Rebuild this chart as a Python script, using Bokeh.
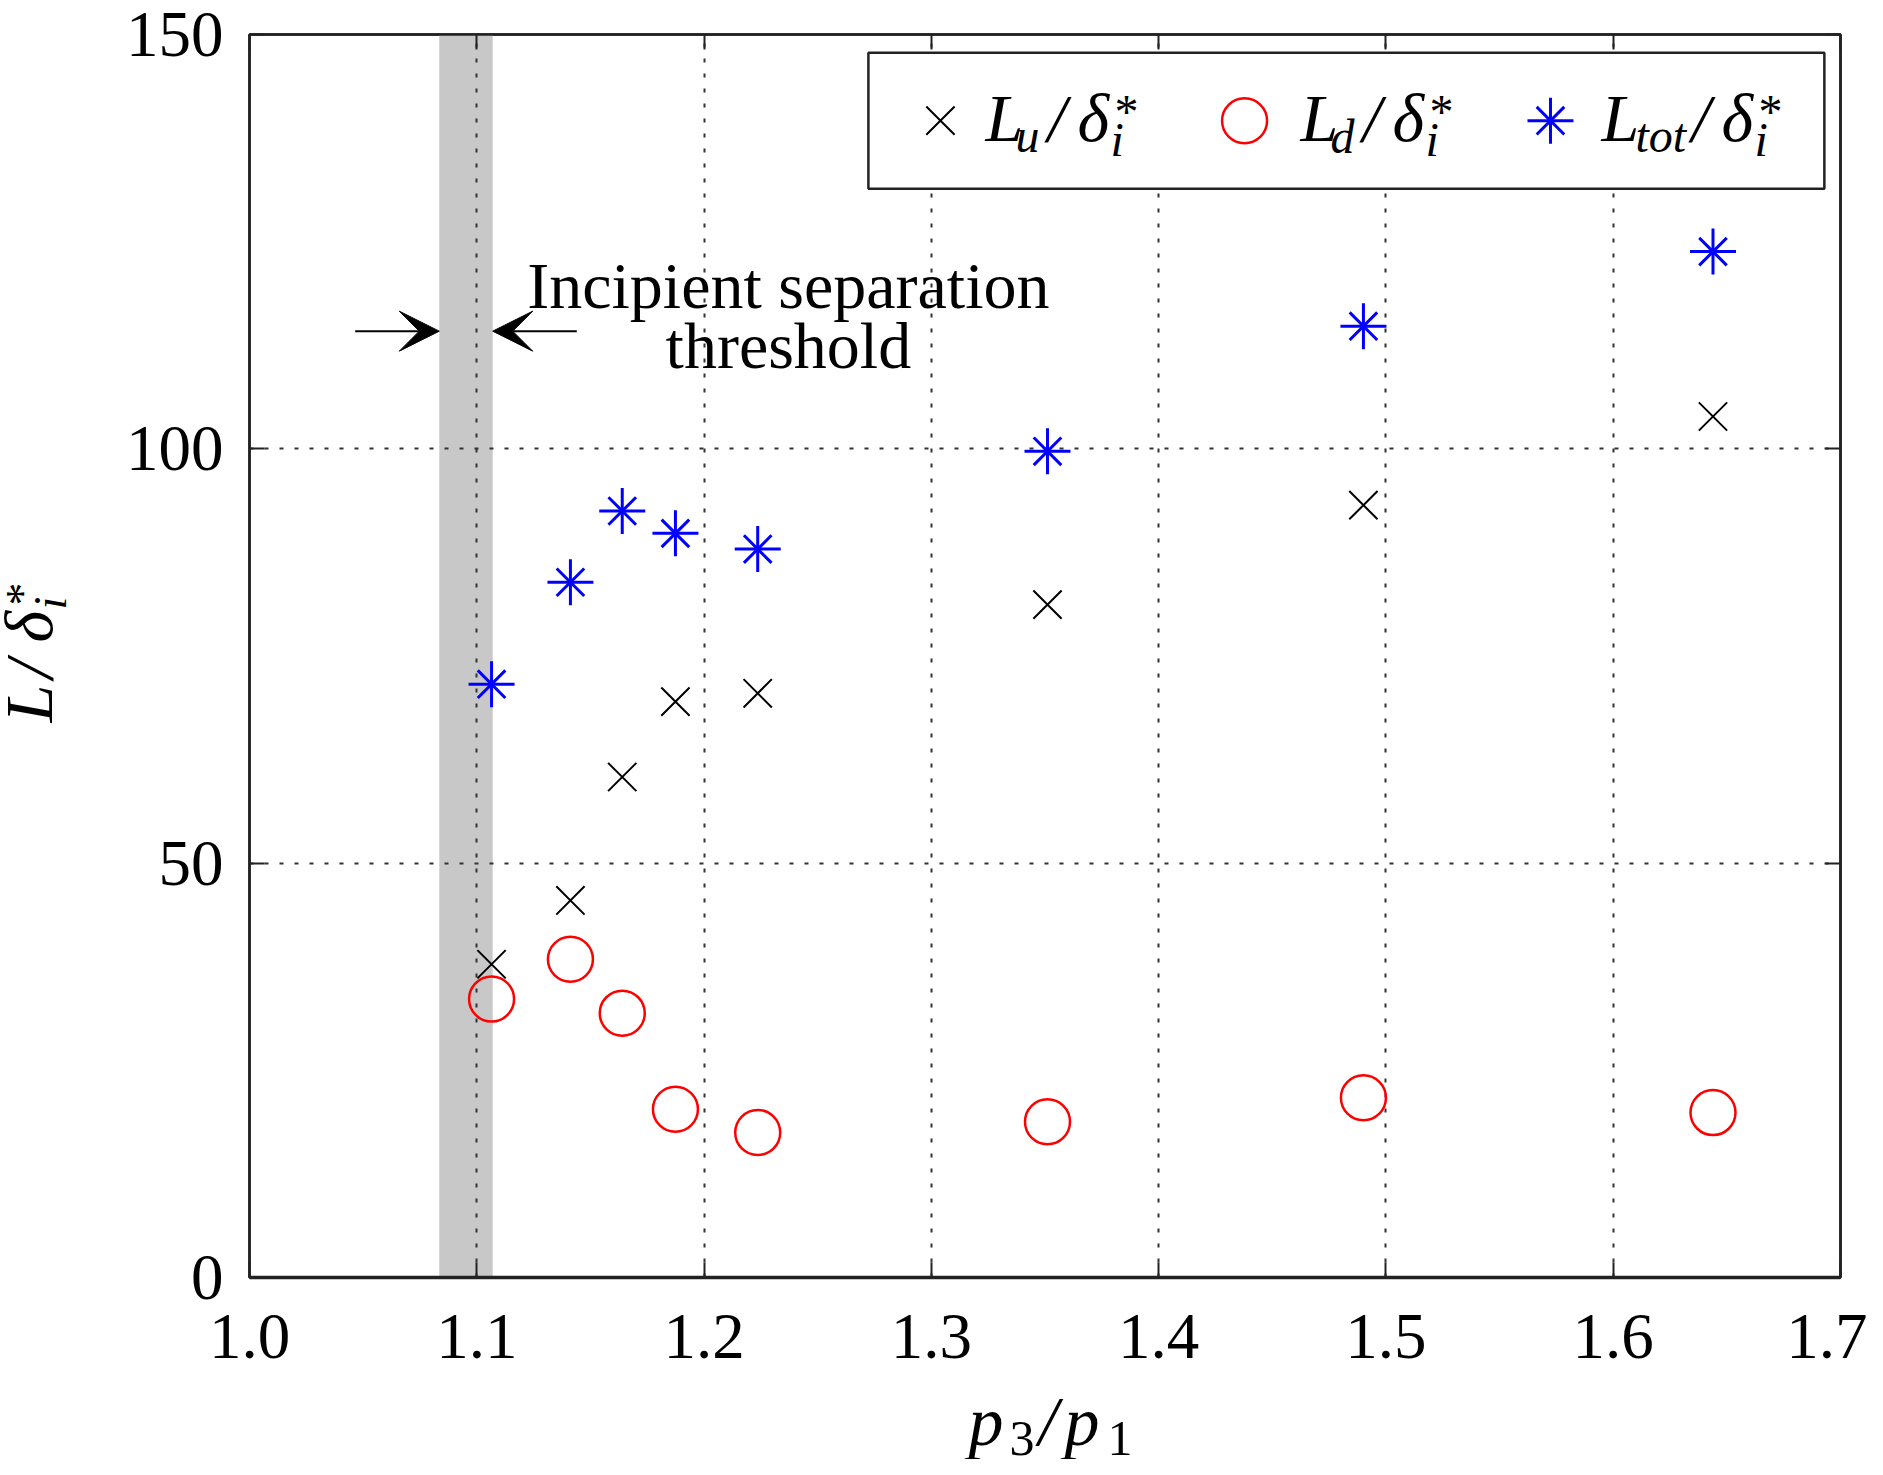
import math
from bokeh.plotting import figure
from bokeh.layouts import row, column
from bokeh.models import Range1d, FixedTicker, LinearAxis, Label, Arrow, VeeHead
from bokeh.embed import file_html
from bokeh.resources import INLINE

# ---------------- data ----------------
p_ratio = [1.1065, 1.1412, 1.1640, 1.1874, 1.2236, 1.3511, 1.4901, 1.6439]
L_u = [37.8, 45.5, 60.4, 69.5, 70.5, 81.2, 93.2, 103.9]
L_d = [33.6, 38.4, 31.9, 20.3, 17.5, 18.8, 21.7, 19.9]
L_tot = [71.6, 83.9, 92.5, 89.8, 87.9, 99.7, 114.8, 123.8]

x_ticks = [1.0, 1.1, 1.2, 1.3, 1.4, 1.5, 1.6, 1.7]
x_tick_labels = ["1.0", "1.1", "1.2", "1.3", "1.4", "1.5", "1.6", "1.7"]
y_ticks = [0, 50, 100, 150]
y_tick_labels = ["0", "50", "100", "150"]
x_grid = [1.1, 1.2, 1.3, 1.4, 1.5, 1.6]
y_grid = [50, 100]
threshold_range = [1.0835, 1.107]
annotation_lines = ["Incipient separation", "threshold"]

FONT = "Liberation Serif"
FRAME = "#222222"
BASE_FIX = 0.35  # baseline compensation (fraction of font size)

YW = 80          # width of the y-title strip
PW, PH = 1787, 1395
XH = 64          # height of the x-title strip

p = figure(width=PW, height=PH,
           x_range=Range1d(1.0, 1.7), y_range=Range1d(0, 150),
           output_backend="svg", toolbar_location=None,
           min_border_left=169, min_border_right=27,
           min_border_top=34, min_border_bottom=118)

p.background_fill_color = "white"
p.border_fill_color = "white"
p.outline_line_color = FRAME
p.outline_line_width = 2.5

for ax in (p.xaxis[0], p.yaxis[0]):
    ax.major_tick_in = 15
    ax.major_tick_out = 0
    ax.minor_tick_line_color = None
    ax.axis_line_color = FRAME
    ax.axis_line_width = 2.5
    ax.major_tick_line_color = FRAME
    ax.major_tick_line_width = 2
    ax.major_label_text_font = FONT
    ax.major_label_text_font_size = "65px"
    ax.major_label_text_color = "black"

p.xaxis[0].ticker = FixedTicker(ticks=x_ticks)
p.xaxis[0].major_label_overrides = {t: l for t, l in zip(x_ticks, x_tick_labels)}
p.xaxis[0].major_label_standoff = 37
p.xaxis[0].axis_line_width = 3.5
p.yaxis[0].ticker = FixedTicker(ticks=y_ticks)
p.yaxis[0].major_label_overrides = {t: l for t, l in zip(y_ticks, y_tick_labels)}
p.yaxis[0].major_label_standoff = 26


def mirror_axis(ticks):
    return LinearAxis(ticker=FixedTicker(ticks=ticks), major_tick_in=15, major_tick_out=0,
                      minor_tick_line_color=None, axis_line_color=FRAME, axis_line_width=2.5,
                      major_tick_line_color=FRAME, major_tick_line_width=2,
                      major_label_text_font_size="1px", major_label_text_alpha=0,
                      major_label_standoff=0)


p.add_layout(mirror_axis(x_ticks), "above")
p.add_layout(mirror_axis(y_ticks), "right")

p.xgrid.ticker = FixedTicker(ticks=x_grid)
p.ygrid.ticker = FixedTicker(ticks=y_grid)
for g in (p.xgrid, p.ygrid):
    g.grid_line_color = "#333333"
    g.grid_line_width = 2
    g.grid_line_dash = "4 11"

# threshold band
p.quad(left=threshold_range[0], right=threshold_range[1], bottom=0, top=150,
       fill_color="#c8c8c8", line_color=None, level="image")

# data markers
p.scatter(p_ratio, L_u, marker="x", size=40, line_color="black", line_width=2)
p.scatter(p_ratio, L_d, marker="circle", size=45, fill_color=None,
          line_color="#ff0000", line_width=2.5)
p.scatter(p_ratio, L_tot, marker="cross", size=46, line_color="#0000ff", line_width=3)
p.scatter(p_ratio, L_tot, marker="x", size=39, line_color="#0000ff", line_width=3)


def rich(fig, x, y, pieces, angle=0.0):
    """pieces: (text, along_px, perp_px, size, style)"""
    for txt, d, s, size, style in pieces:
        s = s + BASE_FIX * size
        if angle == 0.0:
            xo, yo = d, s
        else:
            xo, yo = -s, d
        fig.add_layout(Label(x=x, y=y, text=txt, x_offset=xo, y_offset=yo, angle=angle,
                             text_font=FONT, text_font_size=f"{size}px",
                             text_font_style=style, text_baseline="alphabetic",
                             text_align="left", text_color="black"))


# legend (drawn by hand to keep sub/superscripts)
leg_l, leg_r, leg_b, leg_t = 1.2723, 1.6929, 131.4, 147.8
p.quad(left=leg_l, right=leg_r, bottom=leg_b, top=leg_t, fill_color="white",
       line_color=FRAME, line_width=2.5)
leg_y = (leg_b + leg_t) / 2
p.scatter([leg_l + 0.0317], [leg_y], marker="x", size=40, line_color="black", line_width=2)
p.scatter([leg_l + 0.1655], [leg_y], marker="circle", size=45, fill_color=None,
          line_color="#ff0000", line_width=2.5)
p.scatter([leg_l + 0.3001], [leg_y], marker="cross", size=46, line_color="#0000ff", line_width=3)
p.scatter([leg_l + 0.3001], [leg_y], marker="x", size=39, line_color="#0000ff", line_width=3)

tb = leg_y - 2.6
rich(p, leg_l + 0.0515, tb, [("L", 0, 0, 68, "italic"), ("u", 30, -10, 48, "italic"),
                             ("/", 62, 0, 68, "italic"), ("δ", 92, 0, 68, "italic"),
                             ("i", 125, -14, 48, "italic"), ("*", 129, 14, 48, "normal")])
rich(p, leg_l + 0.1901, tb, [("L", 0, 0, 68, "italic"), ("d", 30, -11, 48, "italic"),
                             ("/", 62, 0, 68, "italic"), ("δ", 92, 0, 68, "italic"),
                             ("i", 125, -14, 48, "italic"), ("*", 129, 14, 48, "normal")])
rich(p, leg_l + 0.3225, tb, [("L", 0, 0, 68, "italic"), ("tot", 34, -10, 48, "italic"),
                             ("/", 90, 0, 68, "italic"), ("δ", 120, 0, 68, "italic"),
                             ("i", 153, -14, 48, "italic"), ("*", 157, 14, 48, "normal")])

# annotation text and arrows
for line, yy in zip(annotation_lines, [116.9, 109.7]):
    p.add_layout(Label(x=1.2371, y=yy, y_offset=BASE_FIX * 66, text=line, text_font=FONT,
                       text_font_size="66px", text_align="center", text_baseline="alphabetic",
                       text_color="black"))
arrow_y = 114.2
for edge, sign in ((threshold_range[0], -1), (threshold_range[1], 1)):
    p.add_layout(Arrow(x_start=edge + sign * 0.037, y_start=arrow_y,
                       x_end=edge, y_end=arrow_y, line_width=2, line_color="black",
                       end=VeeHead(size=40, fill_color="black", line_color="black",
                                   line_width=1)))


# ---- axis titles in their own strips (so they are not clipped by the frame) ----
def strip(w, h, xr):
    f = figure(width=w, height=h, x_range=xr, y_range=Range1d(0, h),
               output_backend="svg", toolbar_location=None,
               x_axis_location=None, y_axis_location=None, min_border=0)
    f.outline_line_color = None
    f.border_fill_color = "white"
    f.background_fill_color = "white"
    f.xgrid.visible = False
    f.ygrid.visible = False
    return f


yfig = strip(YW, PH + XH, Range1d(0, YW))
# the x strip's frame is aligned with the main frame, so it shares the x scale
xfig = strip(PW, XH, Range1d(1.0, 1.7))

# x title: p3/p1
rich(xfig, 1.3163, 14, [("p", 0, 0, 70, "italic"), ("3", 41, -10, 50, "normal"),
                        ("/", 70, 0, 70, "italic"), ("p", 96, 0, 70, "italic"),
                        ("1", 139, -10, 50, "normal")])
# y title: L/delta_i^*, rotated
rich(yfig, 52, (PH + XH) - 722, [("L", 0, 0, 68, "italic"), ("/", 44, 0, 68, "italic"),
                                 ("δ", 80, 0, 68, "italic"), ("i", 113, -14, 46, "italic"),
                                 ("*", 117, 14, 46, "normal")], angle=math.pi / 2)

layout = row(yfig, column(p, xfig))
open("out.html", "w").write(file_html(layout, INLINE))
